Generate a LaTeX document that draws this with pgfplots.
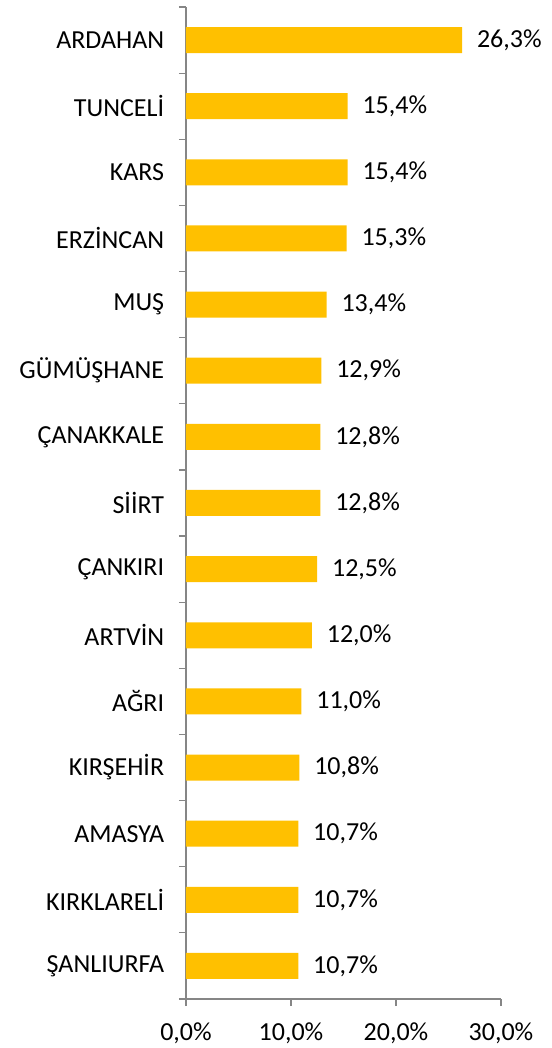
\documentclass[border=0pt]{standalone}
\usepackage{fontspec}
\setmainfont{Carlito}
\usepackage{pgfplots}
\pgfplotsset{compat=1.18}
\definecolor{bargold}{HTML}{FFC000}
\definecolor{axgray}{HTML}{868686}
\begin{document}
\fontsize{26}{30}\selectfont
\begin{tikzpicture}
\path[use as bounding box] (-186pt,-49pt) rectangle (365pt,999pt);
\begin{axis}[
  at={(0,0)}, anchor=south west,
  scale only axis,
  width=315pt, height=992pt,
  xbar, bar width=26pt,
  xmin=0, xmax=30,
  ymin=-0.5, ymax=14.5,
  axis x line*=bottom, axis y line*=left,
  axis line style={draw=axgray, line width=1.2pt, -},
  xtick={0,10,20,30},
  xticklabels={{0,0\%},{10,0\%},{20,0\%},{30,0\%}},
  ytick={0,...,14},
  yticklabels={ŞANLIURFA,KIRKLARELİ,AMASYA,KIRŞEHİR,AĞRI,ARTVİN,ÇANKIRI,SİİRT,ÇANAKKALE,GÜMÜŞHANE,MUŞ,ERZİNCAN,KARS,TUNCELİ,ARDAHAN},
  minor ytick={-0.5,0.5,...,14.5},
  tick align=outside,
  major tick length=7pt,
  minor tick length=7pt,
  y tick style={draw=none},
  minor y tick style={draw=axgray, line width=1.2pt},
  x tick style={draw=axgray, line width=1.2pt},
  yticklabel style={font=\fontsize{26}{30}\selectfont, xshift=-6pt},
  xticklabel style={font=\fontsize{26}{30}\selectfont, inner sep=0pt, yshift=-17pt},
  /pgf/number format/assume math mode=true,
  nodes near coords={\pgfmathprintnumber[fixed, fixed zerofill, precision=1, use comma]{\pgfplotspointmeta}\%},
  nodes near coords style={font=\fontsize{26}{30}\selectfont, anchor=west, xshift=6pt, black},
  point meta=x,
  clip=false,
]
\addplot[fill=bargold, draw=none] coordinates {
(10.7,0) (10.7,1) (10.7,2) (10.8,3) (11.0,4) (12.0,5) (12.5,6) (12.8,7) (12.8,8) (12.9,9) (13.4,10) (15.3,11) (15.4,12) (15.4,13) (26.3,14)
};
\end{axis}
\end{tikzpicture}
\end{document}
